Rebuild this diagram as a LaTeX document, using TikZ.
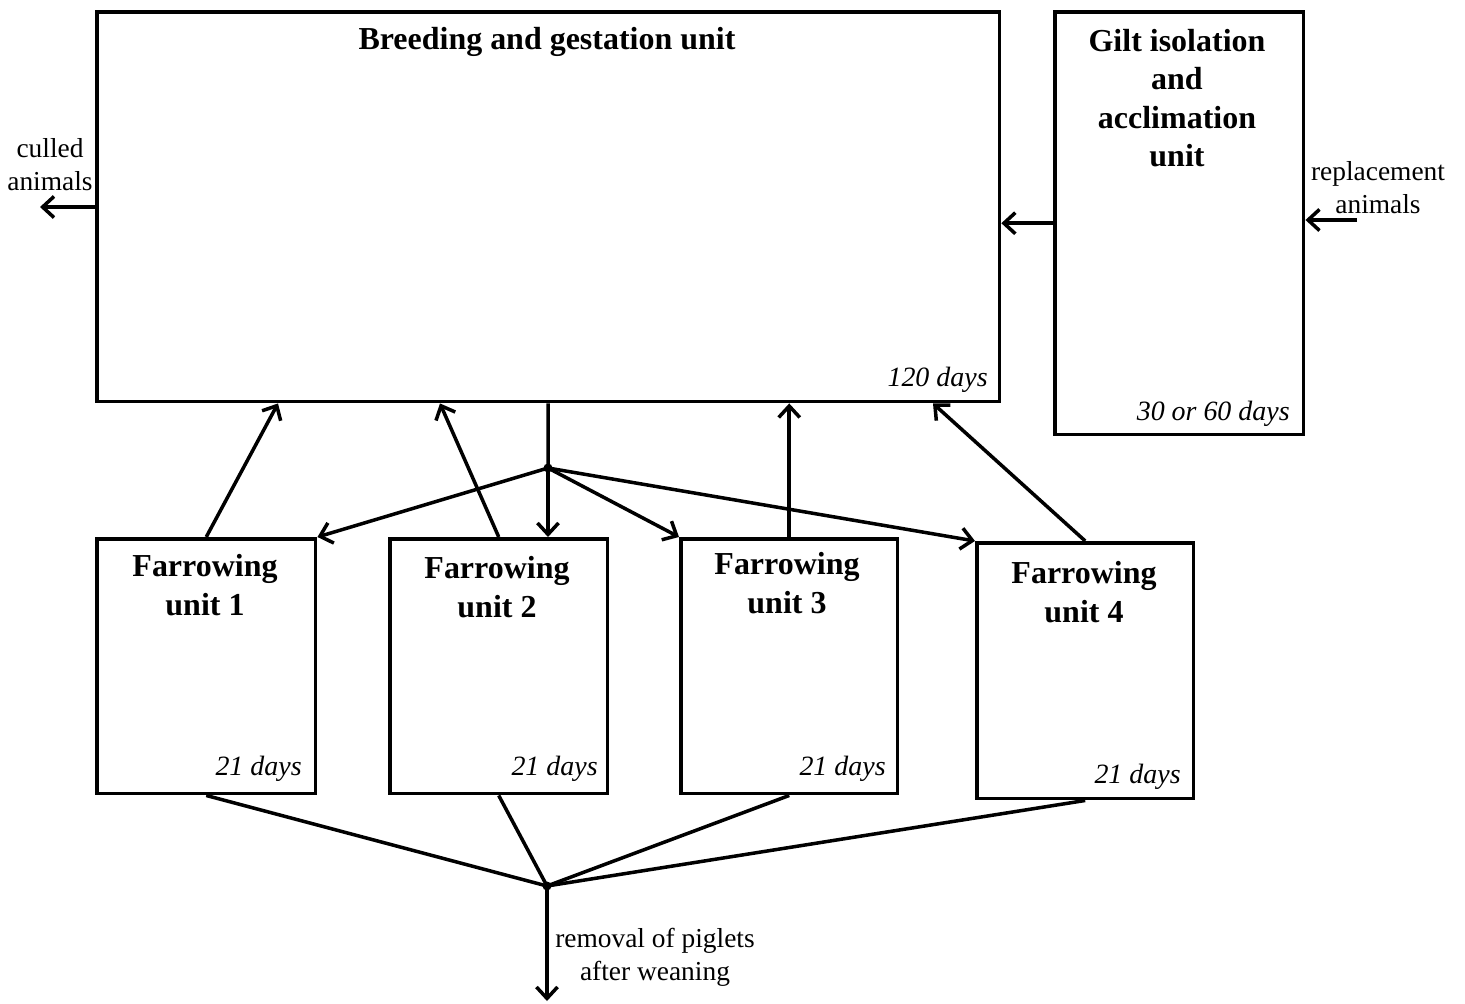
\documentclass[tikz,border=0pt]{standalone}
\usepackage{fontspec}
\setmainfont{Liberation Serif}
\usetikzlibrary{arrows.meta,calc}
\begin{document}
\begin{tikzpicture}[x=0.02cm,y=-0.02cm,
 box/.style={draw, line width=2pt, anchor=north west, inner sep=0pt},
 con/.style={line width=2pt},
 arr/.style={con, -{Straight Barb[length=6.5pt,width=12pt,line width=2pt]}},
 ttl/.style={font=\bfseries\fontsize{18.2}{21.8}\selectfont, align=center, inner sep=0pt},
 dur/.style={font=\itshape\fontsize{15.9}{19}\selectfont, anchor=east, inner sep=0pt},
 lbl/.style={font=\fontsize{15.6}{18.7}\selectfont, align=center, inner sep=0pt},
 dot/.style={fill=black}]
\useasboundingbox (0,0) rectangle (1465,1004);
% boxes
\node[box, minimum width=18.06cm, minimum height=7.8cm] (BG) at (95,10) {};
\node[box, minimum width=4.98cm, minimum height=8.46cm] (GI) at (1053,10) {};
\node[box, minimum width=4.38cm, minimum height=5.1cm] (F1) at (95,537) {};
\node[box, minimum width=4.36cm, minimum height=5.1cm] (F2) at (388,537) {};
\node[box, minimum width=4.34cm, minimum height=5.1cm] (F3) at (679,537) {};
\node[box, minimum width=4.34cm, minimum height=5.12cm] (F4) at (975,541) {};
% titles
\node[ttl] (BGt) at (547,42) {Breeding and gestation unit};
\node[ttl] (GIt) at (1177,98) {Gilt isolation\\and\\acclimation\\unit};
\node[ttl] (F1t) at (205,585) {Farrowing\\unit 1};
\node[ttl] (F2t) at (497,587) {Farrowing\\unit 2};
\node[ttl] (F3t) at (787,583) {Farrowing\\unit 3};
\node[ttl] (F4t) at (1084,592) {Farrowing\\unit 4};
% durations
\node[dur] (BGd) at (988,380) {120 days};
\node[dur] (GId) at (1290,414) {30 or 60 days};
\node[dur] (F1d) at (302,769) {21 days};
\node[dur] (F2d) at (598,769) {21 days};
\node[dur] (F3d) at (886,769) {21 days};
\node[dur] (F4d) at (1181,777) {21 days};
% side labels
\node[lbl] (cul) at (50,165) {culled\\animals};
\node[lbl] (rep) at (1378,188) {replacement\\animals};
\node[lbl] (rem) at (655,957) {removal of piglets\\after weaning};
% coordinates
\coordinate (culled) at (40,207);
\coordinate (repl) at (1357,220);
\coordinate (J1) at (548,468);
\coordinate (J2) at (547,886);
\coordinate (out) at (547,1001);
% connectors
\draw[arr] (BG.west |- culled) -- (culled);
\draw[arr] (GI.west) -- (GI.west -| BG.east);
\draw[arr] (repl) -- (repl -| GI.east);
\draw[con] (BG.south) -- (J1);
\draw[arr] (J1) -- (J1 |- F2.north);
\draw[arr] (J1) -- (F1.north east);
\draw[arr] (J1) -- (F3.north west);
\draw[arr] (J1) -- (F4.north west);
\draw[arr] (F1.north) -- ($(BG.south west)+(183,0)$);
\draw[arr] (F2.north) -- ($(BG.south west)+(345,0)$);
\draw[arr] (F3.north) -- (F3.north |- BG.south);
\draw[arr] (F4.north) -- ($(BG.south west)+(838,0)$);
\draw[con] (F1.south) -- (J2);
\draw[con] (F2.south) -- (J2);
\draw[con] (F3.south) -- (J2);
\draw[con] (F4.south) -- (J2);
\draw[arr] (J2) -- (out);
\fill[dot] (J1) circle (4.5);
\fill[dot] (J2) circle (4.5);
\end{tikzpicture}
\end{document}
